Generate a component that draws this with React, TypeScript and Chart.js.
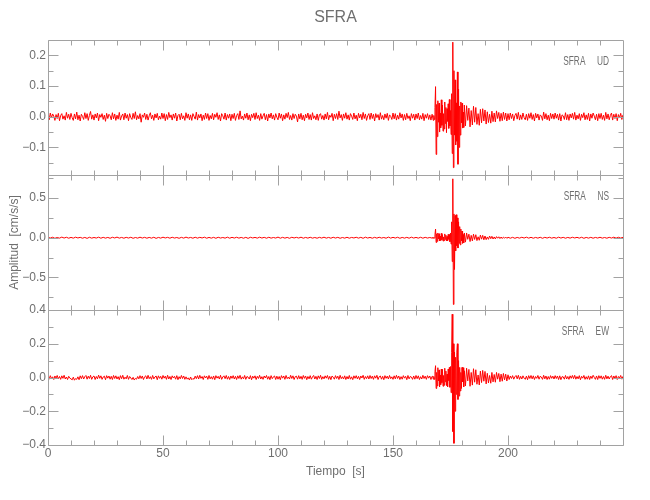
import React, { useEffect, useRef } from "react";
import { Chart, registerables } from "chart.js";

Chart.register(...registerables);

// ---------------- text ----------------
const chartTitle = "SFRA";
const xAxisLabel = "Tiempo  [s]";
const yAxisLabel = "Amplitud  [cm/s/s]";
const componentLabels = ["SFRA     UD", "SFRA     NS", "SFRA     EW"];

// ---------------- axes ----------------
const xRange = [0, 250];
const xTickValues = [0, 50, 100, 150, 200];
const xMinorTicks = [10, 20, 30, 40, 60, 70, 80, 90, 110, 120, 130, 140, 160, 170, 180, 190, 210, 220, 230, 240];

const udRange = [-0.19, 0.25];
const udTickValues = [-0.1, 0, 0.1, 0.2];
const udMinorTicks = [-0.15, -0.05, 0.05, 0.15];

const nsRange = [-0.91, 0.79];
const nsTickValues = [-0.5, 0, 0.5];
const nsMinorTicks = [-0.75, -0.25, 0.25, 0.75];

const ewRange = [-0.4, 0.4];
const ewTickValues = [-0.4, -0.2, 0, 0.2, 0.4];
const ewMinorTicks = [-0.3, -0.1, 0.1, 0.3];

// ---------------- sampling times (s) ----------------
const eventStart = 167.25;
const eventStep = 0.25;
const codaStart = 181.5;
const codaStep = 0.5;
const fineQuiet = { preStart: 0, preStep: 0.5, postStart: 200.5, postStep: 0.5 }; // UD, EW
const coarseQuiet = { preStart: 0, preStep: 1, postStart: 201, postStep: 1 }; // NS

// ---------------- UD component (cm/s/s) ----------------
const udPre = [
  0.006, -0.010, 0.012, -0.004, 0.009, 0.002, -0.012, 0.007, -0.006, 0.011, -0.013, 0.004, 0.010, -0.008, 0.003, -0.011, 0.014, -0.005, 0.008, -0.009,
  0.011, -0.003, -0.012, 0.009, -0.007, 0.015, -0.010, 0.005, -0.014, 0.008, 0.001, -0.009, 0.013, -0.006, 0.010, -0.012, 0.004, 0.017, -0.008, 0.006,
  -0.011, 0.009, -0.004, 0.012, -0.013, 0.007, -0.002, 0.010, -0.009, 0.005, -0.015, 0.011, -0.006, 0.008, 0.003, -0.010, 0.013, -0.007, 0.009, -0.012,
  0.005, -0.008, 0.014, -0.011, 0.002, 0.009, -0.010, 0.012, -0.005, 0.007, -0.013, 0.010, -0.003, -0.009, 0.011, -0.006, 0.016, -0.010, 0.004, -0.007,
  0.010, -0.018, 0.006, -0.002, 0.012, -0.009, 0.008, -0.011, 0.003, 0.013, -0.007, 0.005, -0.012, 0.009, -0.004, 0.011, -0.010, 0.002, -0.008, 0.012,
  -0.006, 0.010, -0.013, 0.007, -0.009, 0.014, -0.003, 0.006, -0.011, 0.009, -0.005, 0.012, -0.014, 0.004, 0.008, -0.010, 0.011, -0.007, 0.003, -0.012,
  0.013, -0.005, 0.009, -0.010, 0.006, -0.012, 0.010, 0.001, -0.008, 0.015, -0.011, 0.007, -0.004, 0.009, -0.013, 0.005, -0.009, 0.012, -0.006, 0.010,
  -0.012, 0.004, -0.007, 0.011, -0.010, 0.008, -0.002, 0.013, -0.009, 0.006, -0.014, 0.010, 0.003, -0.008, 0.012, -0.011, 0.007, -0.005, 0.009, -0.013,
  0.008, -0.006, 0.011, -0.012, 0.004, 0.010, -0.009, 0.019, -0.007, 0.002, -0.011, 0.009, -0.005, 0.012, -0.010, 0.006, -0.013, 0.008, -0.003, 0.011,
  -0.009, 0.013, -0.006, 0.005, -0.012, 0.010, -0.008, 0.003, 0.011, -0.010, 0.007, -0.014, 0.009, -0.004, 0.012, -0.007, 0.006, -0.011, 0.010, -0.002,
  -0.010, 0.012, -0.005, 0.009, -0.013, 0.006, -0.008, 0.011, -0.003, 0.014, -0.009, 0.004, -0.011, 0.010, -0.006, 0.008, 0.002, -0.017, 0.009, -0.007,
  0.011, -0.010, 0.005, -0.013, 0.008, -0.004, 0.012, -0.009, 0.007, -0.011, 0.013, -0.006, 0.003, -0.010, 0.009, -0.012, 0.006, 0.010, -0.008, 0.004,
  -0.011, 0.009, -0.007, 0.014, -0.010, 0.005, -0.002, 0.011, -0.013, 0.008, -0.006, 0.010, -0.009, 0.018, -0.004, 0.007, -0.012, 0.009, -0.005, 0.013,
  -0.008, 0.006, -0.011, 0.010, 0.002, -0.009, 0.012, -0.007, 0.005, -0.013, 0.011, -0.004, 0.008, -0.010, 0.014, -0.006, 0.009, -0.012, 0.003, 0.010,
  -0.009, 0.012, -0.006, 0.008, -0.014, 0.010, -0.003, 0.007, -0.011, 0.013, -0.008, 0.004, -0.010, 0.009, -0.005, 0.011, -0.012, 0.006, 0.001, -0.009,
  0.012, -0.007, 0.010, -0.011, 0.005, -0.008, 0.013, -0.004, 0.009, -0.012, 0.007, -0.010, 0.011, -0.006, 0.003, -0.013, 0.010, -0.005, 0.008, -0.011,
  0.009, -0.006, 0.012, -0.010, 0.004, -0.008, 0.011, -0.013, 0.007, -0.005, 0.010, -0.009, 0.006, -0.011, 0.008,
];
const udEvent = [
  0.008, -0.012, 0.004, -0.009,
  0.030, 0.098, -0.123, 0.040,
  -0.065, 0.052, -0.018, 0.044,
  -0.050, 0.012, -0.036, 0.055,
  -0.028, 0.038, -0.047, 0.010,
  -0.040, 0.048, -0.022, 0.030,
  -0.052, 0.026, -0.015, 0.042,
  -0.038, 0.056, -0.030, 0.020,
  -0.058, 0.075, -0.120, 0.243,
  -0.166, 0.150, -0.060, 0.120,
  -0.092, 0.045, -0.080, 0.146,
  -0.155, 0.090, -0.100, 0.035,
  -0.060, 0.048, -0.020, 0.044,
  -0.037, 0.015, -0.035, 0.038,
];
const udCoda = [
  -0.030, 0.036, -0.012, 0.028, -0.033, 0.020, -0.027, 0.034,
  -0.018, 0.030, -0.025, 0.010, -0.028, 0.024, -0.020, 0.026,
  -0.014, 0.022, -0.024, 0.016, -0.019, 0.008, -0.021, 0.018,
  -0.016, 0.012, -0.017, 0.019, -0.006, 0.014, -0.015, 0.011,
  -0.013, 0.015, -0.009, 0.012, -0.014, 0.010,
];
const udPost = [
  -0.010, 0.012, -0.006, 0.009, -0.013, 0.004, 0.011, -0.008, 0.014, -0.011, 0.006, -0.009, 0.012, -0.003, -0.010, 0.008, -0.012, 0.010, -0.005, 0.013,
  -0.009, 0.007, -0.014, 0.011, -0.004, 0.009, -0.011, 0.006, 0.002, -0.012, 0.015, -0.007, 0.010, -0.010, 0.005, -0.013, 0.011, -0.006, 0.009, -0.008,
  0.012, -0.005, 0.008, -0.011, 0.010, -0.014, 0.006, 0.003, -0.009, 0.013, -0.010, 0.007, -0.012, 0.009, -0.004, 0.011, -0.008, 0.014, -0.011, 0.005,
  -0.007, 0.010, -0.012, 0.008, -0.003, 0.013, -0.010, 0.006, -0.009, 0.011, -0.014, 0.009, -0.005, 0.012, 0.002, -0.010, 0.008, -0.013, 0.010, -0.006,
  0.011, -0.009, 0.005, -0.012, 0.014, -0.007, 0.009, -0.010, 0.004, 0.012, -0.011, 0.008, -0.006, 0.010, -0.013, 0.007, -0.004, 0.011, -0.009, 0.006,
];

// ---------------- NS component (cm/s/s) ----------------
const nsPre = [
  0.005, -0.004, 0.006, -0.007, 0.003, -0.005, 0.008, -0.004, 0.006, -0.006, 0.004, -0.005,
  0.007, -0.003, 0.005, -0.006, 0.004, -0.008, 0.006, -0.005, 0.003, -0.004, 0.007, -0.006,
  0.005, -0.005, 0.004, -0.007, 0.006, -0.003, 0.008, -0.005, 0.004, -0.006, 0.005, -0.004,
  0.006, -0.007, 0.003, -0.005, 0.007, -0.004, 0.005, -0.006, 0.004, -0.005, 0.006, -0.008,
  0.004, -0.005, 0.007, -0.003, 0.005, -0.006, 0.006, -0.004, 0.003, -0.007, 0.005, -0.005,
  0.008, -0.004, 0.004, -0.006, 0.006, -0.005, 0.005, -0.003, 0.007, -0.006, 0.004, -0.005,
  0.005, -0.007, 0.006, -0.004, 0.003, -0.005, 0.007, -0.006, 0.005, -0.004, 0.006, -0.005,
  0.004, -0.006, 0.005, -0.008, 0.006, -0.003, 0.004, -0.005, 0.007, -0.004, 0.005, -0.006,
  0.006, -0.005, 0.003, -0.004, 0.008, -0.006, 0.005, -0.005, 0.004, -0.007, 0.006, -0.003,
  0.005, -0.004, 0.007, -0.006, 0.004, -0.005, 0.006, -0.005, 0.003, -0.006, 0.005, -0.004,
  0.007, -0.005, 0.004, -0.006, 0.006, -0.004, 0.005, -0.007, 0.003, -0.005, 0.006, -0.006,
  0.004, -0.003, 0.006, -0.005, 0.005, -0.007, 0.007, -0.004, 0.004, -0.006, 0.005, -0.005,
  0.006, -0.004, 0.003, -0.006, 0.008, -0.005, 0.005, -0.004, 0.006, -0.007, 0.004, -0.005,
  0.005, -0.006, 0.007, -0.004, 0.004, -0.005, 0.006, -0.006, 0.005, -0.004, 0.003, -0.005,
];
const nsEvent = [
  0.005, -0.006, 0.004, -0.005,
  0.040, 0.110, -0.060, 0.050,
  -0.045, 0.060, -0.015, 0.050,
  -0.040, 0.020, -0.035, 0.055,
  -0.025, 0.038, -0.042, 0.010,
  -0.036, 0.048, -0.020, 0.032,
  -0.040, 0.015, -0.038, 0.042,
  -0.020, 0.040, -0.050, 0.060,
  -0.080, 0.200, -0.300, 0.742,
  -0.840, 0.300, -0.400, 0.280,
  -0.165, 0.290, -0.100, 0.250,
  -0.130, 0.200, -0.070, 0.140,
  -0.090, 0.110, -0.040, 0.085,
  -0.070, 0.040, -0.065, 0.060,
];
const nsCoda = [
  -0.055, 0.060, -0.020, 0.045, -0.048, 0.030, -0.040, 0.045,
  -0.022, 0.038, -0.036, 0.012, -0.032, 0.034, -0.018, 0.030,
  -0.026, 0.022, -0.024, 0.010, -0.020, 0.022, -0.012, 0.018,
  -0.016, 0.010, -0.015, 0.014, -0.006, 0.012, -0.011, 0.009,
  -0.010, 0.008, -0.006, 0.009, -0.008, 0.006,
];
const nsPost = [
  -0.006, 0.005, -0.007, 0.004, -0.005, 0.006, -0.004, 0.007, -0.005, 0.005,
  -0.006, 0.004, -0.005, 0.006, -0.007, 0.005, -0.004, 0.006, -0.005, 0.003,
  -0.006, 0.007, -0.004, 0.005, -0.006, 0.004, -0.005, 0.006, -0.003, 0.005,
  -0.005, 0.006, -0.007, 0.004, -0.005, 0.005, -0.006, 0.004, -0.004, 0.006,
  -0.005, 0.003, -0.006, 0.005, -0.004, 0.007, -0.005, 0.006, -0.004, 0.005,
];

// ---------------- EW component (cm/s/s) ----------------
const ewPre = [
  0.008, -0.010, 0.011, -0.006, 0.004, -0.012, 0.009, -0.003, 0.012, -0.008, 0.006, -0.011, 0.010, -0.005, 0.013, -0.009, 0.003, -0.012, 0.007, -0.004,
  -0.008, -0.014, 0.002, -0.016, -0.006, -0.011, 0.004, -0.013, 0.010, -0.007, 0.011, -0.009, 0.005, 0.012, -0.010, 0.008, -0.006, 0.013, -0.011, 0.004,
  0.009, -0.012, 0.006, -0.008, 0.014, -0.005, 0.010, -0.011, 0.003, 0.008, -0.013, 0.011, -0.004, 0.009, -0.010, 0.007, -0.012, 0.012, -0.006, 0.010,
  -0.009, 0.005, -0.013, 0.011, -0.007, 0.013, -0.010, 0.002, -0.008, 0.012, -0.011, 0.006, -0.003, -0.012, 0.001, -0.015, -0.005, -0.010, 0.006, -0.008,
  0.011, -0.006, 0.009, -0.012, 0.004, 0.010, -0.009, 0.013, -0.007, 0.005, -0.011, 0.012, -0.008, 0.003, 0.009, -0.013, 0.010, -0.005, 0.007, -0.010,
  0.012, -0.004, 0.008, -0.011, 0.013, -0.009, 0.006, -0.012, 0.010, -0.003, 0.007, -0.010, 0.011, -0.013, 0.005, -0.008, 0.012, -0.006, 0.009, -0.011,
  0.004, -0.010, -0.002, -0.015, 0.003, -0.013, -0.006, -0.010, 0.008, -0.007, 0.011, -0.009, 0.013, -0.005, 0.006, -0.012, 0.010, -0.003, 0.008, -0.011,
  0.012, -0.008, 0.005, -0.010, 0.009, -0.013, 0.011, -0.004, 0.007, -0.009, 0.013, -0.011, 0.003, 0.010, -0.007, 0.012, -0.010, 0.006, -0.012, 0.009,
  -0.005, 0.011, -0.009, 0.007, -0.012, 0.010, -0.006, 0.013, -0.010, 0.004, -0.008, 0.012, -0.011, 0.006, 0.002, -0.009, 0.011, -0.013, 0.008, -0.004,
  0.010, -0.012, 0.007, -0.006, 0.013, -0.009, 0.005, -0.011, 0.009, -0.003, 0.012, -0.010, 0.006, -0.013, 0.011, -0.007, 0.004, 0.009, -0.012, 0.008,
  -0.010, 0.006, -0.013, 0.011, -0.004, 0.009, -0.011, 0.012, -0.007, 0.003, -0.009, 0.013, -0.006, 0.010, -0.012, 0.005, 0.008, -0.010, 0.011, -0.008,
  0.007, -0.011, 0.012, -0.005, 0.009, -0.013, 0.006, -0.008, 0.011, -0.010, 0.004, 0.012, -0.009, 0.007, -0.012, 0.010, -0.006, 0.013, -0.011, 0.005,
  -0.008, 0.010, -0.004, 0.012, -0.011, 0.007, -0.013, 0.009, 0.002, -0.010, 0.011, -0.006, 0.008, -0.012, 0.013, -0.007, 0.005, -0.009, 0.010, -0.012,
  0.006, -0.009, 0.012, -0.010, 0.004, -0.013, 0.010, -0.005, 0.011, -0.008, 0.007, -0.012, 0.009, -0.003, 0.013, -0.011, 0.006, -0.007, 0.010, -0.009,
  0.012, -0.006, 0.008, -0.011, 0.010, -0.004, 0.013, -0.012, 0.005, 0.009, -0.010, 0.007, -0.013, 0.011, -0.005, 0.008, -0.009, 0.012, -0.007, 0.004,
  -0.011, 0.010, -0.008, 0.013, -0.006, 0.009, -0.012, 0.005, -0.010, 0.011, -0.004, 0.007, -0.013, 0.012, -0.008, 0.006, 0.003, -0.011, 0.009, -0.010,
  0.012, -0.007, 0.010, -0.012, 0.005, -0.009, 0.013, -0.006, 0.008, -0.011, 0.011, -0.004, 0.009, -0.012, 0.007,
];
const ewEvent = [
  0.008, -0.010, 0.006, -0.011,
  0.035, 0.070, -0.065, 0.030,
  -0.050, 0.058, -0.020, 0.045,
  -0.055, 0.015, -0.042, 0.050,
  -0.030, 0.048, -0.052, 0.012,
  -0.046, 0.055, -0.025, 0.038,
  -0.048, 0.020, -0.055, 0.050,
  -0.018, 0.060, -0.058, 0.065,
  -0.090, 0.150, 0.375, -0.320,
  0.200, -0.390, 0.150, -0.200,
  0.120, -0.100, 0.150, 0.200,
  -0.130, 0.100, -0.110, 0.060,
  -0.080, 0.030, -0.065, 0.060,
  -0.025, 0.058, -0.055, 0.040,
];
const ewCoda = [
  -0.050, 0.055, -0.020, 0.048, -0.052, 0.030, -0.045, 0.052,
  -0.028, 0.046, -0.040, 0.015, -0.044, 0.038, -0.030, 0.042,
  -0.022, 0.036, -0.038, 0.025, -0.032, 0.012, -0.034, 0.030,
  -0.026, 0.018, -0.028, 0.030, -0.010, 0.024, -0.025, 0.020,
  -0.022, 0.024, -0.014, 0.020, -0.021, 0.016,
];
const ewPost = [
  -0.012, 0.009, -0.006, 0.011, -0.010, 0.004, 0.012, -0.008, 0.013, -0.011, 0.007, -0.009, 0.010, -0.004, -0.011, 0.008, -0.013, 0.011, -0.006, 0.012,
  -0.008, 0.010, -0.012, 0.006, -0.005, 0.012, -0.010, 0.007, 0.003, -0.011, 0.013, -0.008, 0.009, -0.012, 0.006, -0.010, 0.011, -0.005, 0.008, -0.009,
  0.011, -0.006, 0.009, -0.012, 0.010, -0.013, 0.005, 0.004, -0.010, 0.012, -0.009, 0.006, -0.011, 0.010, -0.005, 0.012, -0.007, 0.013, -0.010, 0.006,
  -0.008, 0.011, -0.013, 0.007, -0.004, 0.012, -0.011, 0.005, -0.010, 0.010, -0.012, 0.008, -0.006, 0.013, 0.001, -0.011, 0.009, -0.012, 0.011, -0.005,
  0.010, -0.010, 0.006, -0.011, 0.013, -0.008, 0.008, -0.009, 0.005, 0.011, -0.012, 0.009, -0.005, 0.011, -0.012, 0.006, -0.003, 0.012, -0.010, 0.007,
];

// ---------------- styling ----------------
const FONT = '"Liberation Sans", Arial, sans-serif';
const TEXT_COLOR = "#6f6f6f";
const AXIS_COLOR = "#a2a2a2";
const TRACE_COLOR = "rgb(255,0,0)";

type Pt = { x: number; y: number };
type Quiet = { preStart: number; preStep: number; postStart: number; postStep: number };

function buildSeries(q: Quiet, pre: number[], ev: number[], coda: number[], post: number[]): Pt[] {
  const pts: Pt[] = [];
  pre.forEach((y, i) => pts.push({ x: q.preStart + i * q.preStep, y }));
  ev.forEach((y, i) => pts.push({ x: eventStart + i * eventStep, y }));
  coda.forEach((y, i) => pts.push({ x: codaStart + i * codaStep, y }));
  post.forEach((y, i) => pts.push({ x: q.postStart + i * q.postStep, y }));
  return pts;
}

const fmtY = (v: number) => {
  if (Math.abs(v) < 1e-9) return "0.0";
  return v.toFixed(1).replace("-", "\u2212");
};

const panels = [
  { id: "yUD", label: componentLabels[0], range: udRange, major: udTickValues, minor: udMinorTicks, weight: 3 },
  { id: "yNS", label: componentLabels[1], range: nsRange, major: nsTickValues, minor: nsMinorTicks, weight: 2 },
  { id: "yEW", label: componentLabels[2], range: ewRange, major: ewTickValues, minor: ewMinorTicks, weight: 1 },
];

const framePlugin = {
  id: "seismoFrame",
  afterDatasetsDraw(chart: any) {
    const { ctx, chartArea, scales } = chart;
    const xs = scales.x;
    const L = Math.round(chartArea.left) + 0.5;
    const R = Math.round(chartArea.right) + 0.5;
    ctx.save();
    ctx.lineWidth = 1;
    ctx.strokeStyle = AXIS_COLOR;
    panels.forEach((p) => {
      const ys = scales[p.id];
      const T = Math.round(ys.top) + 0.5;
      const B = Math.round(ys.bottom) + 0.5;
      ctx.beginPath();
      ctx.moveTo(L, T);
      ctx.lineTo(R, T);
      ctx.lineTo(R, B);
      ctx.lineTo(L, B);
      ctx.closePath();
      const xTick = (v: number, len: number) => {
        const x = Math.round(xs.getPixelForValue(v)) + 0.5;
        ctx.moveTo(x, T);
        ctx.lineTo(x, T + len);
        ctx.moveTo(x, B);
        ctx.lineTo(x, B - len);
      };
      xTickValues.forEach((v) => xTick(v, 10));
      xMinorTicks.forEach((v) => xTick(v, 5));
      const yTick = (v: number, len: number) => {
        const y = Math.round(ys.getPixelForValue(v)) + 0.5;
        ctx.moveTo(L, y);
        ctx.lineTo(L + len, y);
        ctx.moveTo(R, y);
        ctx.lineTo(R - len, y);
      };
      p.major.forEach((v) => yTick(v, 10));
      p.minor.forEach((v) => yTick(v, 5));
      ctx.stroke();

      ctx.save();
      ctx.fillStyle = TEXT_COLOR;
      ctx.font = `13px ${FONT}`;
      ctx.textAlign = "right";
      ctx.textBaseline = "middle";
      ctx.translate(chartArea.right - 14, ys.top + 21.5);
      ctx.scale(0.64, 1);
      ctx.fillText(p.label, 0, 0);
      ctx.restore();
    });
    ctx.restore();
  },
};

const tickFont = { family: FONT, size: 12 };

function yScale(p: (typeof panels)[number], withTitle: boolean) {
  return {
    type: "linear",
    position: "left",
    stack: "panels",
    stackWeight: 1,
    weight: p.weight,
    min: p.range[0],
    max: p.range[1],
    bounds: "data",
    grid: { display: false, drawTicks: false },
    border: { display: false },
    ticks: {
      autoSkip: false,
      padding: 2,
      color: TEXT_COLOR,
      font: tickFont,
      callback: (v: any) => fmtY(Number(v)),
    },
    afterBuildTicks: (s: any) => {
      s.ticks = p.major.map((value) => ({ value }));
    },
    afterFit: (s: any) => {
      s.width = 48;
    },
    title: withTitle
      ? { display: true, text: yAxisLabel, color: TEXT_COLOR, font: tickFont, padding: { top: 7, bottom: 0 } }
      : { display: false },
  };
}

export default function App() {
  const ref = useRef<HTMLCanvasElement>(null);

  useEffect(() => {
    document.body.style.margin = "0";
    const canvas = ref.current;
    if (!canvas) return;
    const series = [
      buildSeries(fineQuiet, udPre, udEvent, udCoda, udPost),
      buildSeries(coarseQuiet, nsPre, nsEvent, nsCoda, nsPost),
      buildSeries(fineQuiet, ewPre, ewEvent, ewCoda, ewPost),
    ];
    const chart = new Chart(canvas, {
      type: "line",
      data: {
        datasets: panels.map((p, i) => ({
          label: p.label,
          data: series[i],
          xAxisID: "x",
          yAxisID: p.id,
          borderColor: TRACE_COLOR,
          backgroundColor: TRACE_COLOR,
          borderWidth: 1,
          borderJoinStyle: "bevel",
          pointRadius: 0,
          tension: 0,
          fill: false,
        })),
      } as any,
      options: {
        responsive: false,
        maintainAspectRatio: false,
        animation: false,
        events: [],
        layout: { padding: { left: 0, right: 27, top: 0, bottom: 0 } },
        plugins: {
          legend: { display: false },
          tooltip: { enabled: false },
          title: {
            display: true,
            text: chartTitle,
            color: TEXT_COLOR,
            fullSize: false,
            font: { family: FONT, size: 16, weight: "normal" },
            padding: { top: 8, bottom: 12.8 },
          },
        },
        scales: {
          x: {
            type: "linear",
            position: "bottom",
            min: xRange[0],
            max: xRange[1],
            bounds: "data",
            grid: { display: false, drawTicks: false },
            border: { display: false },
            ticks: {
              autoSkip: false,
              maxRotation: 0,
              padding: 1,
              color: TEXT_COLOR,
              font: tickFont,
              callback: (v: any) => String(v),
            },
            afterBuildTicks: (s: any) => {
              s.ticks = xTickValues.map((value) => ({ value }));
            },
            afterFit: (s: any) => {
              s.height = 55;
            },
            title: {
              display: true,
              text: xAxisLabel,
              color: TEXT_COLOR,
              font: tickFont,
              padding: { top: 0, bottom: 21 },
            },
          },
          yUD: yScale(panels[0], false),
          yNS: yScale(panels[1], true),
          yEW: yScale(panels[2], false),
        } as any,
      },
      plugins: [framePlugin],
    } as any);
    return () => chart.destroy();
  }, []);

  return (
    <div style={{ width: 650, height: 500 }}>
      <canvas ref={ref} width={650} height={500} style={{ display: "block" }} />
    </div>
  );
}
